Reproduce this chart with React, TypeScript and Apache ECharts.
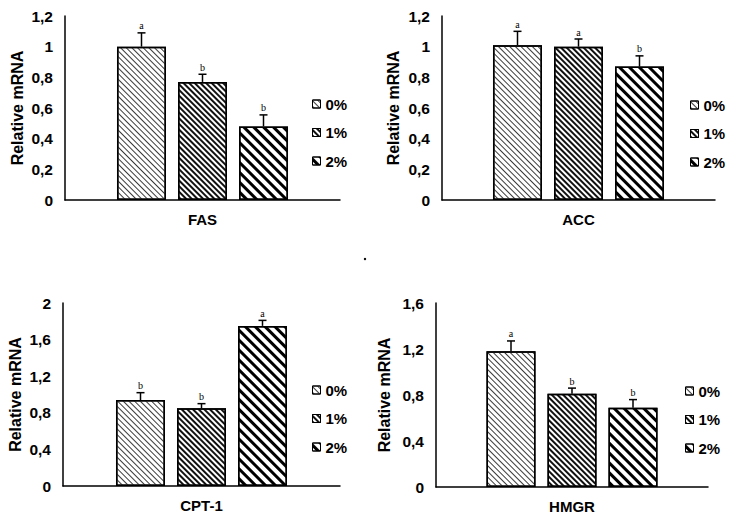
import React, { useEffect, useRef } from "react";
import * as echarts from "echarts";

const genes = ["FAS", "ACC", "CPT-1", "HMGR"];
const groups = ["0%", "1%", "2%"];

const fasMean = [1.0, 0.77, 0.48];
const fasErr = [0.09, 0.05, 0.075];
const fasLetters = ["a", "b", "b"];

const accMean = [1.01, 1.0, 0.87];
const accErr = [0.09, 0.05, 0.07];
const accLetters = ["a", "a", "b"];

const cptMean = [0.94, 0.85, 1.75];
const cptErr = [0.08, 0.05, 0.06];
const cptLetters = ["b", "b", "a"];

const hmgrMean = [1.18, 0.81, 0.69];
const hmgrErr = [0.09, 0.05, 0.07];
const hmgrLetters = ["a", "b", "b"];

const yMax = [1.2, 1.2, 2, 1.6];
const yInterval = [0.2, 0.2, 0.4, 0.4];

const means = [fasMean, accMean, cptMean, hmgrMean];
const errs = [fasErr, accErr, cptErr, hmgrErr];
const letters = [fasLetters, accLetters, cptLetters, hmgrLetters];

const FONT = "'Liberation Sans', Arial, sans-serif";
const BAR_W = 49;
const BAR_STEP = 61;

const grids = [
  { left: 65, top: 16, width: 275, height: 184 },
  { left: 442, top: 16, width: 273, height: 184 },
  { left: 63, top: 303, width: 277, height: 183 },
  { left: 436, top: 303, width: 272, height: 184 },
];
const legendPos = [
  { left: 312, top: 96 },
  { left: 690, top: 97 },
  { left: 312, top: 382 },
  { left: 685, top: 383 },
];
const nameGaps = [40, 41, 40, 44];

const decals: any[] = [
  { symbol: "rect", symbolSize: 1, dashArrayX: [1, 0], dashArrayY: [1, 2.2], rotation: Math.PI / 4, color: "#3a3a3a" },
  { symbol: "rect", symbolSize: 1, dashArrayX: [1, 0], dashArrayY: [1.8, 1.3], rotation: Math.PI / 4, color: "#111" },
  { symbol: "rect", symbolSize: 1, dashArrayX: [1, 0], dashArrayY: [3, 3.5], rotation: Math.PI / 4, color: "#000" },
];

const fmt = (v: number) => String(Number(v.toFixed(1))).replace(".", ",");

export default function App() {
  const ref = useRef<HTMLDivElement>(null);
  useEffect(() => {
    if (!ref.current) return;
    const chart = echarts.init(ref.current, undefined, { renderer: "svg" });
    const xAxis: any[] = [];
    const yAxis: any[] = [];
    const series: any[] = [];
    const legend: any[] = [];
    genes.forEach((g, p) => {
      xAxis.push({
        type: "category",
        gridIndex: p,
        data: [g],
        axisLine: { show: true, lineStyle: { color: "#000", width: 1.5 } },
        axisTick: { show: false },
        axisLabel: { fontSize: 15, fontWeight: "bold", color: "#000", margin: 12, fontFamily: FONT },
      });
      yAxis.push({
        type: "value",
        gridIndex: p,
        min: 0,
        max: yMax[p],
        interval: yInterval[p],
        name: "Relative mRNA",
        nameLocation: "middle",
        nameGap: nameGaps[p],
        nameTextStyle: { fontSize: 16, fontWeight: "bold", color: "#000", fontFamily: FONT },
        axisLine: { show: true, lineStyle: { color: "#000", width: 1.5 } },
        axisTick: { show: false },
        splitLine: { show: false },
        axisLabel: { fontSize: 15.5, fontWeight: "bold", color: "#000", margin: 12, fontFamily: FONT, formatter: fmt },
      });
      groups.forEach((name, i) => {
        series.push({
          type: "bar",
          name,
          xAxisIndex: p,
          yAxisIndex: p,
          data: [means[p][i]],
          barWidth: BAR_W,
          barGap: "24.5%",
          itemStyle: { color: "#fff", borderColor: "#000", borderWidth: 1.5, decal: decals[i] },
        });
      });
      const lt = letters[p];
      series.push({
        type: "custom",
        name: "err" + p,
        xAxisIndex: p,
        yAxisIndex: p,
        z: 5,
        itemStyle: { color: "#000" },
        data: means[p].map((m, i) => [0, m, m + errs[p][i], i]),
        encode: { x: 0, y: [1, 2] },
        renderItem: (params: any, api: any) => {
          const i = api.value(3);
          const base = api.coord([0, api.value(1)]);
          const top = api.coord([0, api.value(2)]);
          const cx = base[0] + (i - 1) * BAR_STEP;
          return {
            type: "group",
            children: [
              { type: "line", shape: { x1: cx, y1: base[1], x2: cx, y2: top[1] }, style: { stroke: "#000", lineWidth: 1.5 } },
              { type: "line", shape: { x1: cx - 4, y1: top[1], x2: cx + 4, y2: top[1] }, style: { stroke: "#000", lineWidth: 1.5 } },
              {
                type: "text",
                x: cx,
                y: top[1] - 2,
                style: { text: lt[params.dataIndex], fontSize: 10, fontFamily: "'Liberation Serif', serif", align: "center", verticalAlign: "bottom", fill: "#000" },
              },
            ],
          };
        },
      });
      legend.push({
        data: groups,
        orient: "vertical",
        left: legendPos[p].left,
        top: legendPos[p].top,
        padding: 0,
        itemWidth: 8,
        itemHeight: 8,
        itemGap: 12.5,
        icon: "rect",
        selectedMode: false,
        itemStyle: { borderColor: "#000", borderWidth: 1 },
        textStyle: { fontSize: 15, fontWeight: "bold", color: "#000", fontFamily: FONT, lineHeight: 16 },
      });
    });
    chart.setOption({
      animation: false,
      backgroundColor: "#fff",
      grid: grids,
      xAxis,
      yAxis,
      series,
      legend,
      graphic: [{ type: "circle", shape: { cx: 365, cy: 259, r: 1.2 }, style: { fill: "#000" } }],
    });
    return () => chart.dispose();
  }, []);
  return <div ref={ref} style={{ position: "absolute", left: 0, top: 0, width: 730, height: 519 }} />;
}
